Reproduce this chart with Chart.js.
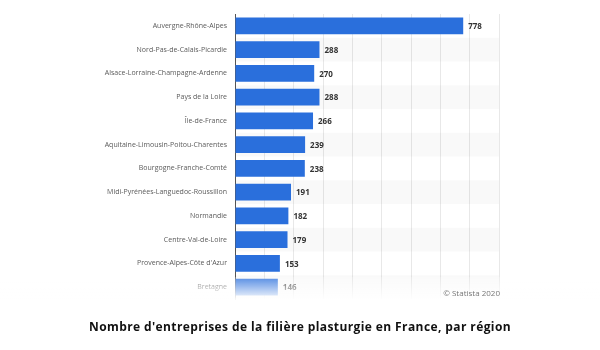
<!DOCTYPE html>
<html>
<head>
<meta charset="utf-8">
<script src="https://cdn.jsdelivr.net/npm/chart.js@4"></script>
<style>
    html, body { margin: 0; padding: 0; background: #fff; }
    #wrap { position: relative; width: 600px; height: 350px; }
    #titre {
        position: absolute; left: 0; top: 318px; width: 600px;
        text-align: center; font-family: "Open Sans", sans-serif;
        font-weight: bold; font-size: 12px; letter-spacing: 0.4px; color: #111;
    }
</style>
</head>
<body>
<div id="wrap">
    <canvas id="regionsChart" width="600" height="350"></canvas>
    <div id="titre">Nombre d'entreprises de la filière plasturgie en France, par région</div>
</div>
<script>
const regions = [
    'Auvergne-Rhône-Alpes',
    'Nord-Pas-de-Calais-Picardie',
    'Alsace-Lorraine-Champagne-Ardenne',
    'Pays de la Loire',
    'Île-de-France',
    'Aquitaine-Limousin-Poitou-Charentes',
    'Bourgogne-Franche-Comté',
    'Midi-Pyrénées-Languedoc-Roussillon',
    'Normandie',
    'Centre-Val-de-Loire',
    "Provence-Alpes-Côte d'Azur",
    'Bretagne'
];
const entreprises = [778, 288, 270, 288, 266, 239, 238, 191, 182, 179, 153, 146];
const axeMax = 900;
const pasGrille = 100;

// bandes grises une ligne sur deux
const bandes = {
    id: 'bandes',
    beforeDatasetsDraw(chart) {
        const ctx = chart.ctx, y = chart.scales.y, area = chart.chartArea;
        const h = (area.bottom - area.top) / regions.length;
        ctx.save();
        ctx.fillStyle = 'rgba(0,0,0,0.025)';
        regions.forEach((r, i) => {
            if (i % 2 === 1) {
                const c = y.getPixelForValue(i);
                ctx.fillRect(area.left, c - h / 2, area.right - area.left, h);
            }
        });
        ctx.restore();
    }
};

// valeurs au bout des barres, fondu en bas et source
const valeurs = {
    id: 'valeurs',
    afterDatasetsDraw(chart) {
        const ctx = chart.ctx;
        ctx.save();
        ctx.font = 'bold 8px "Open Sans", sans-serif';
        ctx.fillStyle = '#333';
        ctx.textBaseline = 'middle';
        chart.getDatasetMeta(0).data.forEach((bar, i) => {
            ctx.fillText(entreprises[i], bar.x + 5, bar.y + 1);
        });
        ctx.restore();
    },
    afterDraw(chart) {
        const ctx = chart.ctx;
        ctx.save();
        const g = ctx.createLinearGradient(0, 277, 0, 299);
        g.addColorStop(0, 'rgba(255,255,255,0.2)');
        g.addColorStop(1, 'rgba(255,255,255,0.95)');
        ctx.fillStyle = g;
        ctx.fillRect(0, 277, 600, 23);
        ctx.font = '8px "Open Sans", sans-serif';
        ctx.fillStyle = '#777';
        ctx.textAlign = 'right';
        ctx.textBaseline = 'middle';
        ctx.fillText('© Statista 2020', 500, 294);
        ctx.restore();
    }
};

new Chart(document.getElementById('regionsChart'), {
    type: 'bar',
    data: {
        labels: regions,
        datasets: [{
            data: entreprises,
            backgroundColor: '#2a6fdc',
            barPercentage: 0.7,
            categoryPercentage: 1
        }]
    },
    options: {
        indexAxis: 'y',
        responsive: false,
        animation: false,
        layout: { padding: { left: 0, right: 101, top: 14, bottom: 51 } },
        plugins: {
            legend: { display: false },
            tooltip: { enabled: false }
        },
        scales: {
            x: {
                min: 0,
                max: axeMax,
                ticks: { display: false, stepSize: pasGrille },
                grid: { color: '#e8e8e8', drawTicks: false },
                border: { display: false },
                afterFit(scale) { scale.height = 0; }
            },
            y: {
                ticks: {
                    color: '#5a5a5a',
                    padding: 0,
                    autoSkip: false,
                    font: { family: '"Open Sans", sans-serif', size: 7 }
                },
                grid: { display: false },
                border: { color: '#555', width: 1 },
                afterFit(scale) { scale.width = 235; }
            }
        }
    },
    plugins: [bandes, valeurs]
});
</script>
</body>
</html>
